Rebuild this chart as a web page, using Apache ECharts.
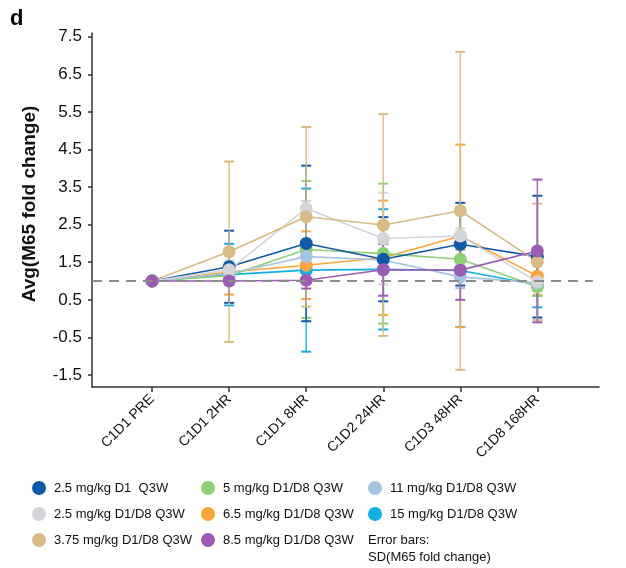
<!DOCTYPE html>
<html>
<head>
<meta charset="utf-8">
<script src="https://cdn.jsdelivr.net/npm/echarts@6/dist/echarts.min.js"></script>
<style>
  html, body { margin: 0; padding: 0; background: #fff; }
  #chart { width: 626px; height: 568px; }
</style>
</head>
<body>
<div id="chart"></div>
<script>
// time points on the x axis
var categories = ['C1D1 PRE', 'C1D1 2HR', 'C1D1 8HR', 'C1D2 24HR', 'C1D3 48HR', 'C1D8 168HR'];
var yTicks = [-1.5, -0.5, 0.5, 1.5, 2.5, 3.5, 4.5, 5.5, 6.5, 7.5];

var names = [
  '2.5 mg/kg D1  Q3W',
  '2.5 mg/kg D1/D8 Q3W',
  '3.75 mg/kg D1/D8 Q3W',
  '5 mg/kg D1/D8 Q3W',
  '6.5 mg/kg D1/D8 Q3W',
  '8.5 mg/kg D1/D8 Q3W',
  '11 mg/kg D1/D8 Q3W',
  '15 mg/kg D1/D8 Q3W'
];

// mean fold change per time point
var mean25D1   = [1.00, 1.38, 2.00, 1.58, 1.98, 1.65];
var mean25D1D8 = [1.00, 1.30, 2.93, 2.13, 2.20, 0.98];
var mean375    = [1.00, 1.78, 2.71, 2.49, 2.87, 1.51];
var mean5      = [1.00, 1.14, 1.84, 1.73, 1.58, 0.85];
var mean65     = [1.00, 1.24, 1.42, 1.62, 2.20, 1.13];
var mean85     = [1.00, 1.00, 1.02, 1.30, 1.29, 1.80];
var mean11     = [1.00, 1.20, 1.65, 1.56, 1.11, 0.95];
var mean15     = [1.00, 1.17, 1.29, 1.31, 1.28, 0.90];

// SD of fold change per time point
var sd25D1   = [0, 0.96, 2.07, 1.12, 1.10, 1.62];
var sd25D1D8 = [0, 0.25, 0.20, 1.22, 0.20, 0.25];
var sd375    = [0, 2.40, 2.39, 2.95, 4.23, 1.55];
var sd5      = [0, 0.25, 1.82, 1.86, 0.25, 0.25];
var sd65     = [0, 0.60, 0.90, 1.52, 2.43, 0.50];
var sd85     = [0, 0.05, 0.22, 0.69, 0.79, 1.90];
var sd11     = [0, 0.20, 0.25, 0.25, 0.30, 0.20];
var sd15     = [0, 0.82, 2.17, 1.60, 1.50, 0.60];

var means = [mean25D1, mean25D1D8, mean375, mean5, mean65, mean85, mean11, mean15];
var sds = [sd25D1, sd25D1D8, sd375, sd5, sd65, sd85, sd11, sd15];
var colors = ['#0e5aa7', '#d3d5da', '#d8bb85', '#8fcf76', '#fba53d', '#9b5cb4', '#a6c4e2', '#14aee2'];
// stacking order of the markers, bottom first
var drawOrder = [7, 4, 3, 6, 0, 1, 2, 5];

var font = "'Liberation Sans', Arial, sans-serif";
var chart = echarts.init(document.getElementById('chart'));

var errSeries = [];
var lineSeries = [];
drawOrder.forEach(function (s) {
  var errData = [];
  var lineData = [];
  for (var i = 0; i < categories.length; i++) {
    lineData.push([i, means[s][i]]);
    if (sds[s][i] > 0) {
      errData.push([i, means[s][i] - sds[s][i], means[s][i] + sds[s][i]]);
    }
  }
  var col = colors[s];
  errSeries.push({
    name: names[s] + ' SD',
    type: 'custom',
    z: 2,
    silent: true,
    data: errData,
    renderItem: function (params, api) {
      var lo = api.coord([api.value(0), api.value(1)]);
      var hi = api.coord([api.value(0), api.value(2)]);
      var w = 5;
      return {
        type: 'group',
        children: [
          { type: 'line', shape: { x1: lo[0], y1: lo[1], x2: hi[0], y2: hi[1] }, style: { stroke: col, lineWidth: 1.6, opacity: 0.85 } },
          { type: 'line', shape: { x1: lo[0] - w, y1: lo[1], x2: lo[0] + w, y2: lo[1] }, style: { stroke: col, lineWidth: 2 } },
          { type: 'line', shape: { x1: hi[0] - w, y1: hi[1], x2: hi[0] + w, y2: hi[1] }, style: { stroke: col, lineWidth: 2 } }
        ]
      };
    }
  });
  lineSeries.push({
    name: names[s],
    type: 'line',
    z: 4,
    data: lineData,
    symbol: 'circle',
    symbolSize: 13,
    lineStyle: { color: col, width: 1.6 },
    itemStyle: { color: col }
  });
});

// reference line at fold change 1
var refSeries = {
  name: 'ref',
  type: 'line',
  z: 3,
  data: [],
  markLine: {
    silent: true,
    symbol: 'none',
    label: { show: false },
    lineStyle: { color: '#8c8c8c', type: [10, 7], width: 2 },
    data: [[{ coord: [-0.78, 1] }, { coord: [5.72, 1] }]]
  }
};

var legendCommon = {
  orient: 'vertical',
  icon: 'circle',
  itemWidth: 14,
  itemHeight: 14,
  itemGap: 10,
  top: 480,
  padding: 0,
  selectedMode: false,
  textStyle: { fontFamily: font, fontSize: 13, color: '#111', padding: [0, 0, 0, 3], lineHeight: 16 }
};

var option = {
  animation: false,
  backgroundColor: '#fff',
  grid: { left: 92, right: 27, top: 33, bottom: 181 },
  xAxis: {
    type: 'value',
    min: -0.78,
    max: 5.8,
    splitLine: { show: false },
    axisLine: { onZero: false, lineStyle: { color: '#333', width: 1.5 } },
    axisTick: { customValues: categories.map(function (c, i) { return i; }), length: 5, lineStyle: { color: '#333', width: 1.5 } },
    axisLabel: {
      customValues: categories.map(function (c, i) { return i; }),
      formatter: function (v) { return categories[Math.round(v)]; },
      rotate: 45,
      margin: 10,
      fontFamily: font,
      fontSize: 14,
      color: '#111'
    }
  },
  yAxis: {
    type: 'value',
    min: -1.82,
    max: 7.6,
    name: 'Avg(M65 fold change)',
    nameLocation: 'middle',
    nameGap: 53,
    nameTextStyle: { fontFamily: font, fontSize: 19, fontWeight: 'bold', color: '#111', padding: [0, 0, 0, 12] },
    splitLine: { show: false },
    axisLine: { show: true, onZero: false, lineStyle: { color: '#333', width: 1.5 } },
    axisTick: { show: true, customValues: yTicks, length: 4, lineStyle: { color: '#333', width: 1.5 } },
    axisLabel: {
      customValues: yTicks,
      formatter: function (v) { return v.toFixed(1); },
      margin: 10,
      fontFamily: font,
      fontSize: 17,
      color: '#111'
    }
  },
  legend: [
    Object.assign({}, legendCommon, { left: 32, data: names.slice(0, 3) }),
    Object.assign({}, legendCommon, { left: 201, data: names.slice(3, 6) }),
    Object.assign({}, legendCommon, { left: 368, data: names.slice(6, 8) })
  ],
  graphic: [
    { type: 'text', left: 10, top: 8, style: { text: 'd', fontFamily: font, fontSize: 22, fontWeight: 'bold', fill: '#000' } },
    { type: 'text', left: 368, top: 532, style: { text: 'Error bars:\nSD(M65 fold change)', fontFamily: font, fontSize: 13, lineHeight: 17, fill: '#111' } }
  ],
  series: errSeries.concat([refSeries]).concat(lineSeries)
};

chart.setOption(option);
</script>
</body>
</html>
